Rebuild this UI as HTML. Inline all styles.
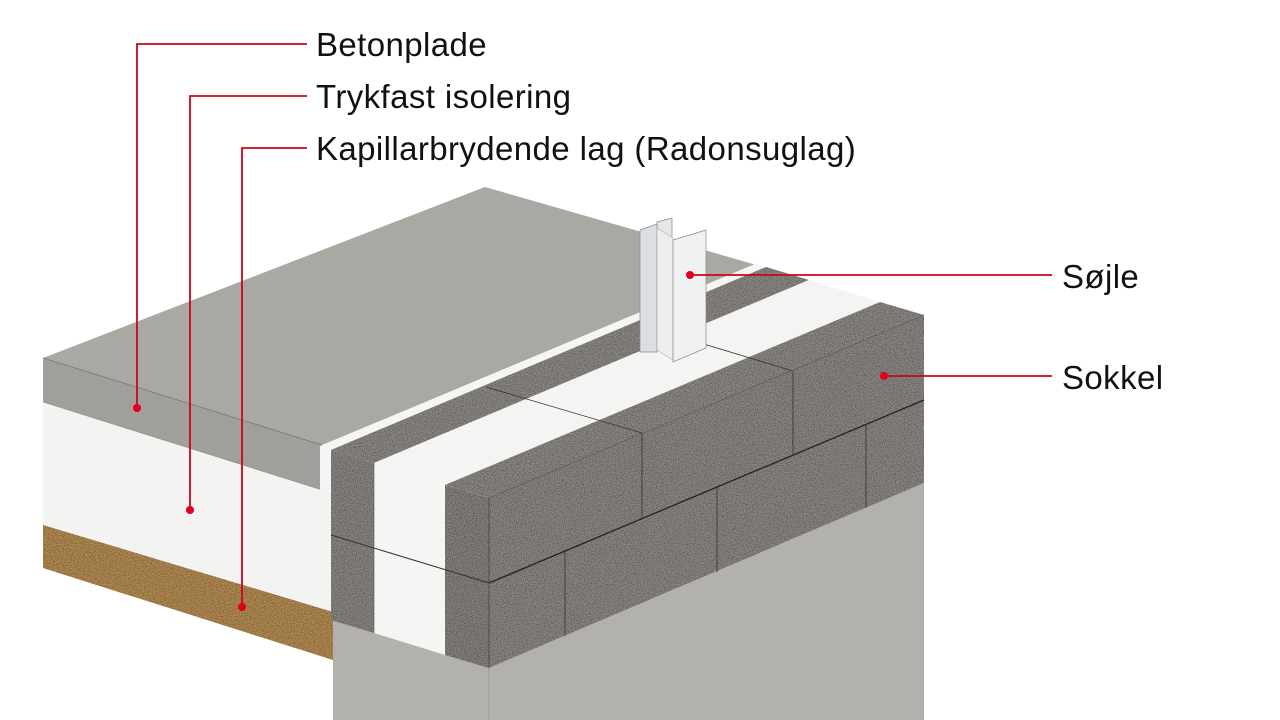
<!DOCTYPE html>
<html><head><meta charset="utf-8"><style>
html,body{margin:0;padding:0;background:#fff;}
svg{display:block;}
text{font-family:"Liberation Sans",sans-serif;font-size:33px;letter-spacing:0.4px;fill:#111;}
</style></head><body>
<svg width="1280" height="720" viewBox="0 0 1280 720" xmlns="http://www.w3.org/2000/svg">
<defs>
<filter id="grain" x="0" y="0" width="100%" height="100%">
<feTurbulence type="fractalNoise" baseFrequency="0.9" numOctaves="2" seed="3" result="n"/>
<feColorMatrix in="n" type="matrix" values="0 0 0 0 0  0 0 0 0 0  0 0 0 0 0  0 0 0 1.6 -0.6" result="a"/>
<feComposite in="a" in2="SourceGraphic" operator="in" result="d"/>
<feMerge><feMergeNode in="SourceGraphic"/><feMergeNode in="d"/></feMerge>
</filter>
</defs>

<!-- Slab -->
<polygon points="43,358 485,187 760,266 322,445" fill="#a9a8a3"/>
<polygon points="43,358 322,445 322,490 43,402" fill="#a09f9a"/>
<polygon points="43,402 322,490 333,492 333,612 43,525" fill="#f3f3f2"/>
<polygon points="43,525 333,612 333,660 43,568" fill="#b38b52" filter="url(#grain)"/>
<line x1="43" y1="358" x2="322" y2="445" stroke="#777" stroke-width="0.8"/>
<line x1="43" y1="402" x2="322" y2="490" stroke="#888" stroke-width="0.6"/>
<polygon points="320,446 755,264 766,267 331,450" fill="#f5f5f5"/>
<polygon points="320,446 331,450 331,492 320,490" fill="#f5f5f5"/>

<!-- Plinth concrete -->
<polygon points="333,620 489,668 924,483 924,720 333,720" fill="#b2b1ab"/>
<line x1="489" y1="668" x2="489" y2="720" stroke="#999" stroke-width="0.8"/>

<!-- Wall top surface bands -->
<polygon points="331,450 766,267 809,280 374,463" fill="#8d8985" filter="url(#grain)"/>
<polygon points="374,463 809,280 880,302 445,485" fill="#f4f4f3"/>
<polygon points="445,485 880,302 924,315 489,498" fill="#8d8985" filter="url(#grain)"/>
<line x1="486" y1="387" x2="642" y2="433" stroke="#333" stroke-width="0.8"/>
<line x1="664" y1="332" x2="793" y2="371" stroke="#333" stroke-width="0.8"/>

<!-- Wall left face -->
<polygon points="331,450 374,463 374,633 331,620" fill="#8a8682" filter="url(#grain)"/>
<polygon points="374,463 445,485 445,655 374,633" fill="#f5f5f4"/>
<polygon points="445,485 489,498 489,668 445,655" fill="#86827e" filter="url(#grain)"/>
<line x1="331" y1="535" x2="489" y2="583" stroke="#333" stroke-width="1"/>
<line x1="374" y1="463" x2="374" y2="633" stroke="#555" stroke-width="0.6"/>

<!-- Wall front face -->
<polygon points="489,498 924,315 924,483 489,668" fill="#8b8783" filter="url(#grain)"/>
<line x1="489" y1="583" x2="924" y2="400" stroke="#222" stroke-width="1.3"/>
<line x1="642" y1="433" x2="642" y2="518" stroke="#333" stroke-width="0.8"/>
<line x1="793" y1="370" x2="793" y2="455" stroke="#333" stroke-width="0.8"/>
<line x1="565" y1="551" x2="565" y2="636" stroke="#333" stroke-width="0.8"/>
<line x1="717" y1="487" x2="717" y2="572" stroke="#333" stroke-width="0.8"/>
<line x1="866" y1="424" x2="866" y2="508" stroke="#333" stroke-width="0.8"/>
<line x1="489" y1="498" x2="489" y2="668" stroke="#444" stroke-width="0.8"/>
<line x1="489" y1="498" x2="924" y2="315" stroke="#555" stroke-width="0.6"/>

<!-- Column -->
<polygon points="657,222 672,218 672,345 657,350" fill="#e4e6e8" stroke="#888" stroke-width="0.7"/>
<polygon points="640,230 657,224 657,352 640,352" fill="#dcdfe2" stroke="#888" stroke-width="0.7"/>
<polygon points="657,228 673,238 673,360 657,350" fill="#eceef0" stroke="#999" stroke-width="0.5"/>
<polygon points="673,240 706,230 706,348 673,362" fill="#f0f1f2" stroke="#888" stroke-width="0.7"/>

<!-- Leader lines -->
<g stroke="#d0021b" stroke-width="1.8" fill="none">
<polyline points="307,44 137,44 137,408"/>
<polyline points="307,96 190,96 190,510"/>
<polyline points="307,148 242,148 242,607"/>
<line x1="690" y1="275" x2="1052" y2="275"/>
<line x1="884" y1="376" x2="1052" y2="376"/>
</g>
<g fill="#e0001b">
<circle cx="137" cy="408" r="4"/>
<circle cx="190" cy="510" r="4"/>
<circle cx="242" cy="607" r="4"/>
<circle cx="690" cy="275" r="4"/>
<circle cx="884" cy="376" r="4"/>
</g>

<text x="316" y="56">Betonplade</text>
<text x="316" y="108">Trykfast isolering</text>
<text x="316" y="160">Kapillarbrydende lag (Radonsuglag)</text>
<text x="1062" y="288">Søjle</text>
<text x="1062" y="389">Sokkel</text>
</svg>
</body></html>
